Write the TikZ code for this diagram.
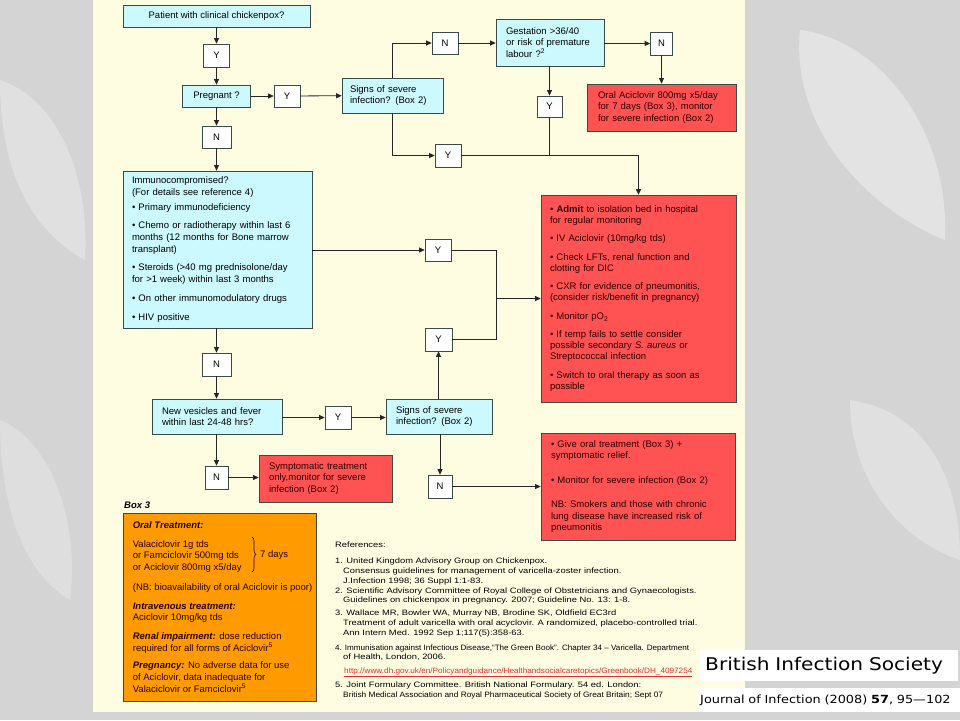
\documentclass[tikz,border=0pt]{standalone}
\usepackage{graphicx}
\usepackage{fontspec}
\setmainfont{Liberation Sans}
\newfontfamily\bisfont[FakeStretch=1.15]{DejaVu Sans}
\newfontfamily\reffont[FakeStretch=1.2]{Liberation Sans}
\usetikzlibrary{arrows.meta,decorations.pathreplacing}
\definecolor{panel}{HTML}{FFFDE1}
\definecolor{bggray}{HTML}{D4D4D4}
\definecolor{cyanf}{HTML}{CCF9FD}
\definecolor{redf}{HTML}{FF5252}
\definecolor{orangef}{HTML}{FF9A00}
\definecolor{edge}{HTML}{3A4A44}
\definecolor{redtxt}{HTML}{2A0000}
\definecolor{urlred}{HTML}{E03030}
\begin{document}
\begin{tikzpicture}[x=1pt,y=-1pt,
  box/.style={draw=edge, line width=0.7pt, inner ysep=0pt, font=\fontsize{9.5}{11.5}\selectfont, align=left},
  cbox/.style={box, fill=cyanf},
  rbox/.style={box, fill=redf, text=redtxt},
  yn/.style={draw=edge, line width=0.7pt, fill=white, inner sep=0pt, minimum width=26pt, minimum height=23pt, font=\fontsize{9.5}{11.5}\selectfont},
  arr/.style={draw=black!85, line width=0.8pt, -{Triangle[length=5.5pt,width=5pt]}},
  ln/.style={draw=black!85, line width=0.8pt}
]
\useasboundingbox (0,0) rectangle (960,720);
% background
\fill[bggray] (0,0) rectangle (960,720);
\fill[white, opacity=0.35] (800,30) .. controls (880,40) and (950,130) .. (945,240) .. controls (870,210) and (790,130) .. (800,30);
\fill[white, opacity=0.3] (850,400) .. controls (920,410) and (960,470) .. (960,560) .. controls (900,540) and (850,480) .. (850,400);
\fill[white, opacity=0.3] (0,80) .. controls (60,100) and (90,180) .. (85,260) .. controls (30,230) and (0,170) .. (0,80);
\fill[white, opacity=0.25] (0,420) .. controls (50,440) and (80,520) .. (70,600) .. controls (20,570) and (0,500) .. (0,420);
\fill[panel] (93,0) rectangle (745,712);
% footer
\node[fill=white, inner xsep=5pt, inner ysep=0pt, text width=248pt, minimum height=31pt, anchor=north west, align=left,
      font=\bisfont\fontsize{17.5}{20}\selectfont] (bis) at (700,650) {British Infection Society};
\node[fill=white, inner xsep=3pt, inner ysep=0pt, text width=257pt, minimum height=24pt, anchor=north west, align=left,
      font=\bisfont\fontsize{11.2}{13}\selectfont] (jrnl) at (697,688) {Journal of Infection (2008) \textbf{57}, 95—102};

% nodes
\node[cbox, align=center, minimum width=187pt, minimum height=22pt] (patient) at (216.5,16) {Patient with clinical chickenpox?};
\node[yn] (y1) at (216.5,55.5) {Y};
\node[cbox, align=center, minimum width=68pt, minimum height=22pt] (preg) at (216.5,96) {Pregnant ?};
\node[yn, minimum height=22pt] (y2) at (287,96) {Y};
\node[cbox, text width=85pt, inner xsep=8pt, minimum height=35pt] (signs1) at (392.5,95.5) {Signs of severe\\infection? (Box 2)};
\node[yn, minimum height=22pt, minimum width=29pt] (n1) at (216.5,137) {N};
\node[yn, minimum height=22pt] (n2) at (445,43) {N};
\node[cbox, text width=88pt, inner xsep=10pt, minimum height=47pt] (gest) at (550,42.5) {Gestation >36/40\\or risk of premature\\labour ?\textsuperscript{2}};
\node[yn, minimum width=22pt] (n3) at (661.5,43.5) {N};
\node[rbox, text width=127pt, inner xsep=11pt, minimum height=47pt] (oral) at (661.5,107.5) {Oral Aciclovir 800mg x5/day\\for 7 days (Box 3), monitor\\for severe infection (Box 2)};
\node[yn, minimum width=25pt, minimum height=21pt] (y3) at (549.5,106.5) {Y};
\node[yn] (y4) at (448,155.5) {Y};
\node[cbox, text width=171pt, inner xsep=9pt, minimum height=157pt, font=\fontsize{9.5}{11.8}\selectfont] (immuno) at (217.5,249.5) {Immunocompromised?\\
(For details see reference 4)\\[3pt]
• Primary immunodeficiency\\[6.5pt]
• Chemo or radiotherapy within last 6\\
months (12 months for Bone marrow\\
transplant)\\[6.5pt]
• Steroids (>40 mg prednisolone/day\\
for >1 week) within last 3 months\\[7pt]
• On other immunomodulatory drugs\\[7pt]
• HIV positive};
\node[yn, minimum height=22pt] (y5) at (438,250) {Y};
\node[yn, minimum width=27pt] (y6) at (438.5,339.5) {Y};
\node[rbox, text width=177pt, inner xsep=9pt, minimum height=207pt, font=\fontsize{9.5}{11}\selectfont] (admit) at (638.5,298.5) {• \textbf{Admit} to isolation bed in hospital\\
for regular monitoring\\[7.5pt]
• IV Aciclovir (10mg/kg tds)\\[7.5pt]
• Check LFTs, renal function and\\
clotting for DIC\\[7.5pt]
• CXR for evidence of pneumonitis,\\
(consider risk/benefit in pregnancy)\\[7.5pt]
• Monitor pO\textsubscript{2}\\[7.5pt]
• If temp fails to settle consider\\
possible secondary \textit{S. aureus} or\\
Streptococcal infection\\[7.5pt]
• Switch to oral therapy as soon as\\
possible};
\node[yn, minimum width=29pt] (n4) at (216.5,364.5) {N};
\node[cbox, text width=110pt, inner xsep=10pt, minimum height=35pt] (vesic) at (217,416.5) {New vesicles and fever\\within last 24-48 hrs?};
\node[yn] (y7) at (338,417.5) {Y};
\node[cbox, text width=86pt, inner xsep=10pt, minimum height=35pt] (signs2) at (439,416.5) {Signs of severe\\infection? (Box 2)};
\node[yn, minimum width=23pt] (n5) at (216.5,477.5) {N};
\node[rbox, text width=113pt, inner xsep=10pt, minimum height=47pt] (sympt) at (325.5,478.5) {Symptomatic treatment\\only,monitor for severe\\infection (Box 2)};
\node[yn, minimum width=24pt] (n6) at (440,486.5) {N};
\node[rbox, text width=174pt, inner xsep=10pt, minimum height=107pt, font=\fontsize{9.5}{11.5}\selectfont] (give) at (638,486.5) {• Give oral treatment (Box 3) +\\
symptomatic relief.\\[13pt]
• Monitor for severe infection (Box 2)\\[13pt]
NB: Smokers and those with chronic\\
lung disease have increased risk of\\
pneumonitis};

% Box 3
\node[font=\bfseries\itshape\fontsize{9.5}{11}\selectfont, anchor=base west, inner sep=0pt] (box3lbl) at (124,508) {Box 3};
\node[draw=edge, line width=0.7pt, fill=orangef, minimum width=193pt, minimum height=188pt, inner sep=0pt] (obox) at (219.5,607) {};
\node[anchor=west, inner sep=0pt, align=left, text=redtxt, font=\fontsize{9.5}{11.7}\selectfont] (otext) at ([xshift=10pt]obox.west) {\textbf{\textit{Oral Treatment:}}\\[7pt]
Valaciclovir 1g tds\\
or Famciclovir 500mg tds\\
or Aciclovir 800mg x5/day\\[8pt]
(NB: bioavailability of oral Aciclovir is poor)\\[7pt]
\textbf{\textit{Intravenous treatment:}}\\
Aciclovir 10mg/kg tds\\[7pt]
\textbf{\textit{Renal impairment:}} dose reduction\\
required for all forms of Aciclovir\textsuperscript{5}\\[6pt]
\textbf{\textit{Pregnancy:}} No adverse data for use\\
of Aciclovir, data inadequate for\\
Valaciclovir or Famciclovir\textsuperscript{5}};
\coordinate (bt) at (252,537);
\coordinate (bb) at (252,572);
\draw[redtxt, line width=0.6pt, decorate, decoration={brace, amplitude=4pt}] (bt) -- (bb);
\node[anchor=west, inner sep=0pt, text=redtxt, font=\fontsize{9.5}{11}\selectfont] (seven) at (260,555) {7 days};

% references
\node[anchor=north west, inner sep=0pt, align=left, font=\reffont\fontsize{7.8}{9.8}\selectfont] (refs) at (335,542) {References:\\[6pt]
1. United Kingdom Advisory Group on Chickenpox.\\
\hspace*{8pt}Consensus guidelines for management of varicella-zoster infection.\\
\hspace*{8pt}J.Infection 1998; 36 Suppl 1:1-83.\\
2. Scientific Advisory Committee of Royal College of Obstetricians and Gynaecologists.\\
\hspace*{8pt}Guidelines on chickenpox in pregnancy. 2007; Guideline No. 13: 1-8.\\[3pt]
3. Wallace MR, Bowler WA, Murray NB, Brodine SK, Oldfield EC3rd\\
\hspace*{8pt}Treatment of adult varicella with oral acyclovir. A randomized, placebo-controlled trial.\\
\hspace*{8pt}Ann Intern Med. 1992 Sep 1;117(5):358-63.\\[5pt]
\scalebox{0.865}[1]{4. Immunisation against Infectious Disease,“The Green Book”. Chapter 34 – Varicella. Department}\\
\hspace*{8pt}of Health, London, 2006.\\[4pt]
\hspace*{9pt}\scalebox{0.874}[1]{\textcolor{urlred}{\underline{http://www.dh.gov.uk/en/Policyandguidance/Healthandsocialcaretopics/Greenbook/DH\_4097254}}}\\[4pt]
5. Joint Formulary Committee. British National Formulary. 54 ed. London:\\
\hspace*{8pt}\scalebox{0.89}[1]{British Medical Association and Royal Pharmaceutical Society of Great Britain; Sept 07}};

% connectors
\draw[arr] (patient.south -| y1) -- (y1.north);
\draw[arr] (y1) -- (preg);
\draw[arr] (preg) -- (y2);
\draw[arr] (y2) -- (signs1);
\draw[arr] (preg) -- (n1);
\draw[arr] (n1.south) -- (n1.south |- immuno.north);
\draw[arr] (signs1.north) |- (n2.west);
\draw[arr] (n2.east) -- (n2.east -| gest.west);
\draw[arr] (n3.west -| gest.east) -- (n3.west);
\draw[arr] (n3) -- (oral);
\draw[arr] (gest.south -| y3) -- (y3.north);
\draw[arr] (signs1.south) |- (y4.west);
\coordinate (j0) at (y3.south |- y4.east);
\draw[ln] (y4.east) -- (j0);
\draw[ln] (y3.south) -- (j0);
\draw[arr, line width=1.3pt] (j0) -| (admit.north);
\draw[arr] (immuno.east |- y5.west) -- (y5.west);
\coordinate (j2) at (496,298.5);
\draw[ln] (y5.east) -- (y5.east -| j2) -- (y6.east -| j2) -- (y6.east);
\draw[arr] (j2) -- (j2 -| admit.west);
\draw[arr] (immuno.south -| n4) -- (n4.north);
\draw[arr] (n4.south) -- (n4.south |- vesic.north);
\draw[arr] (vesic.east |- y7.west) -- (y7.west);
\draw[arr] (y7.east) -- (y7.east -| signs2.west);
\draw[arr] (signs2.north -| y6) -- (y6.south);
\draw[arr] (vesic.south -| n5) -- (n5.north);
\draw[arr] (n5.east) -- (n5.east -| sympt.west);
\draw[arr] (signs2.south -| n6) -- (n6.north);
\draw[arr] (n6.east) -- (n6.east -| give.west);
\end{tikzpicture}
\end{document}
